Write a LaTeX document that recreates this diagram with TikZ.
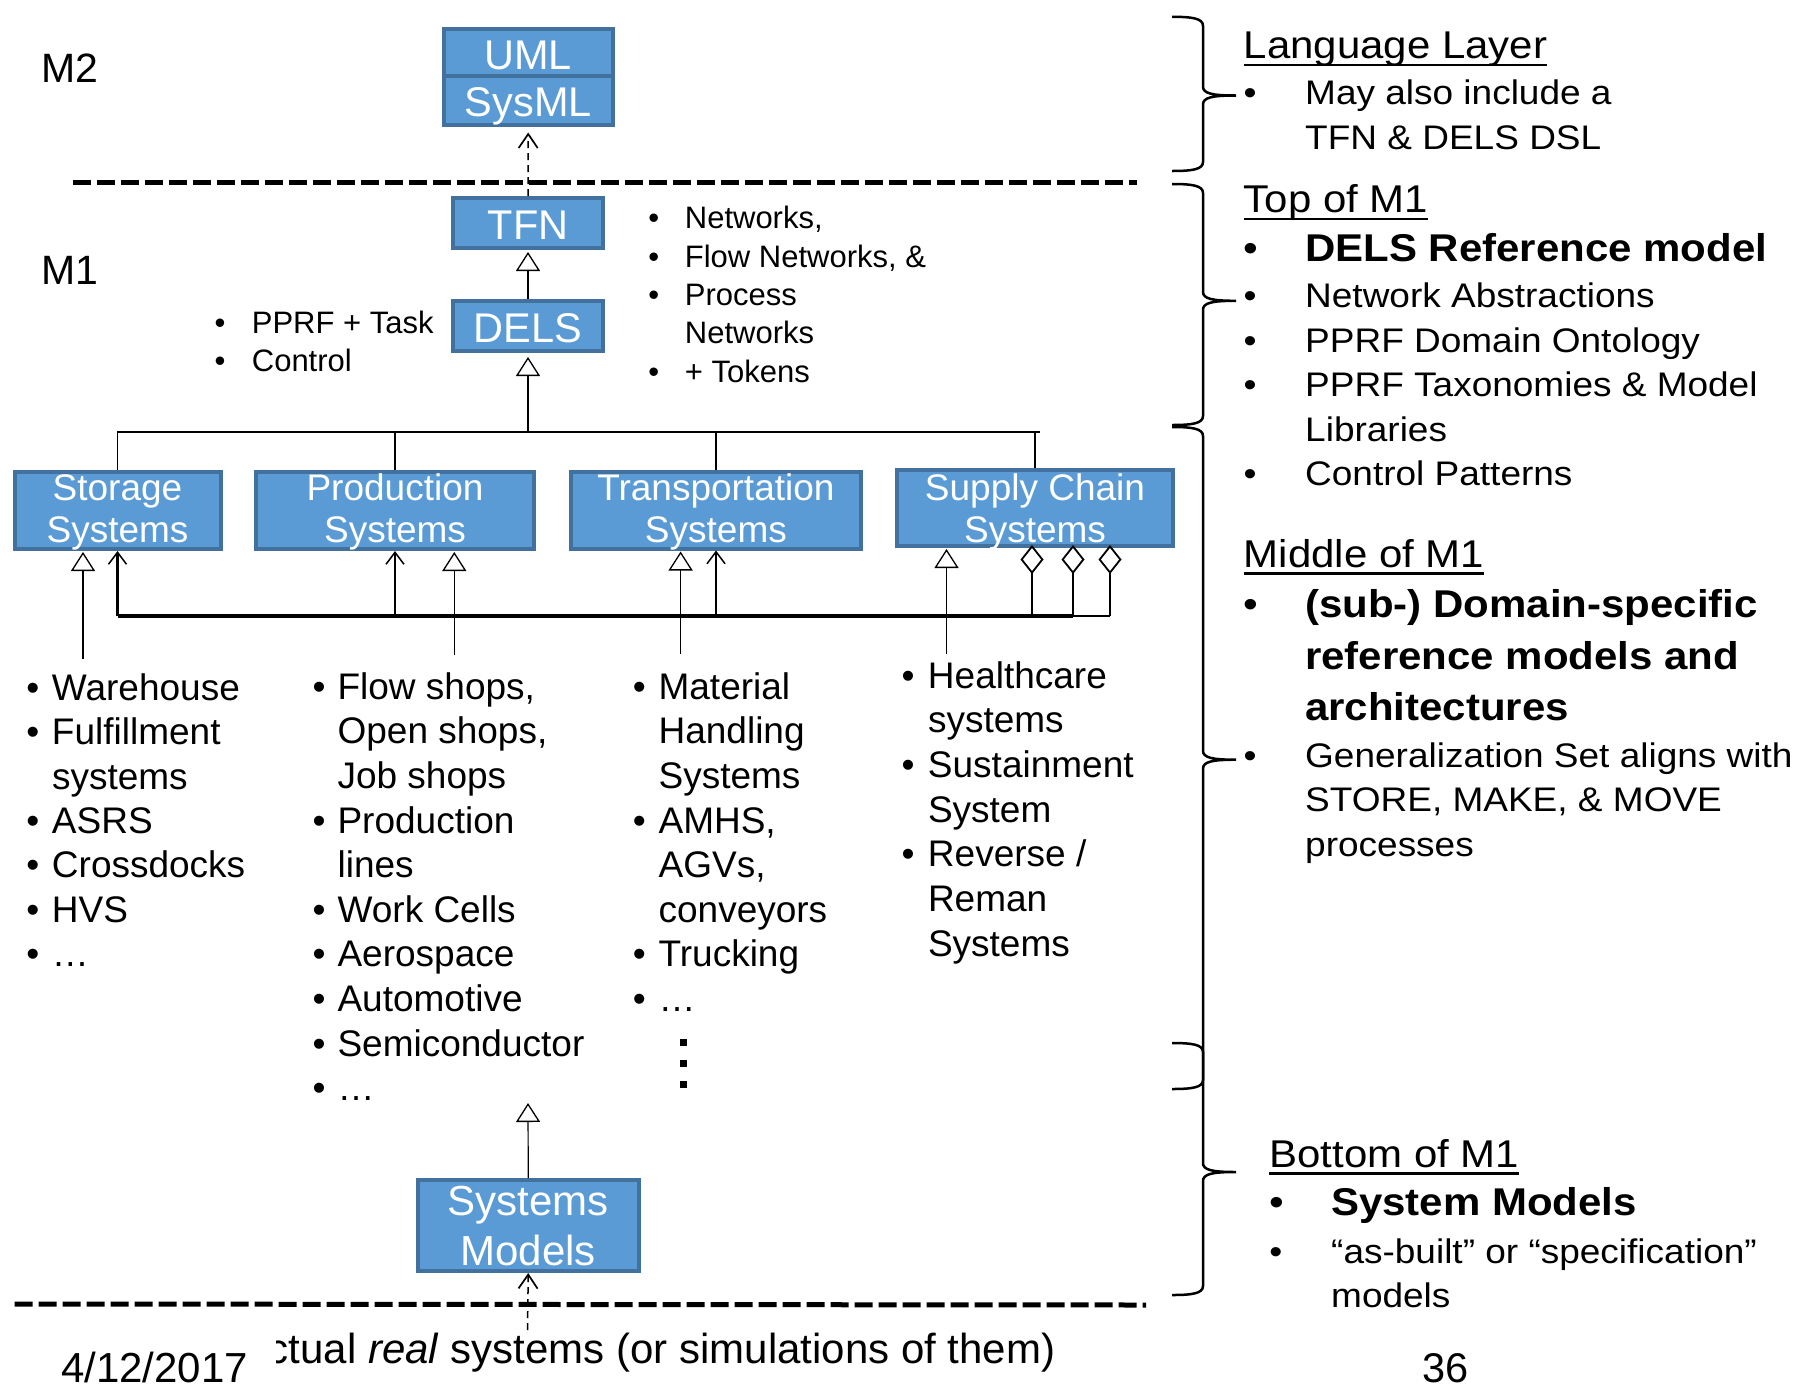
\documentclass[tikz,border=0pt]{standalone}
\usepackage{fontspec}
\setmainfont{Liberation Sans}
\newfontfamily\rfont[FakeStretch=1.085]{Liberation Sans}
\usetikzlibrary{arrows.meta}
\definecolor{boxfill}{RGB}{91,155,213}
\definecolor{boxline}{RGB}{65,113,156}
\newcommand\fs[2]{\fontsize{#1}{#2}\selectfont}
\newlength\bw
\newcommand\bu{\makebox[\bw][l]{\textbullet}}
\newcommand\ulx[1]{\setbox0\hbox{#1}\rlap{\rule[-7.6pt]{\wd0}{2.5pt}}\box0}
\newcommand\twol[2]{\begin{tabular}[t]{@{}c@{}}#1\\#2\end{tabular}}
\begin{document}
\begin{tikzpicture}[x=1pt,y=-1pt,
  box/.style={draw=boxline, fill=boxfill, line width=4pt, text=white, inner sep=0pt},
  one/.style={text height=33pt, text depth=0pt, font=\fs{41.5}{50}},
  twobox/.style={text height=0pt, font=\fs{37}{42.5}},
  gen/.style={-{Triangle[open,length=19pt,width=24pt,line width=1.3pt]}, line width=1.2pt},
  assoc/.style={-{Straight Barb[length=12pt,width=18pt,line width=1.5pt]}, line width=2.6pt},
  aggr/.style={-{Diamond[open,length=29pt,width=23pt,line width=1.8pt]}, line width=2.2pt},
  dep/.style={-{Straight Barb[length=14pt,width=19pt,line width=1.7pt]}, line width=1.5pt, dash pattern=on 7pt off 5pt},
  sepline/.style={line width=5pt, dash pattern=on 18pt off 6pt},
  tree/.style={line width=1.6pt},
  brace/.style={line width=2.5pt},
  txt/.style={inner sep=0pt, anchor=base west}]
\useasboundingbox (0,0) rectangle (1807,1390);

% separators
\coordinate (s1L) at (72.5,182.4);
\coordinate (s1R) at (1137,182.4);
\draw[sepline] (s1L) -- (s1R);
\coordinate (s2L) at (14.7,1304);
\coordinate (s2R) at (1146,1305);
\draw[sepline] (s2L) -- (s2R);

% level labels
\node[txt, font=\fs{41}{50}] (m2) at (41.5,82) {M2};
\node[txt, font=\fs{41}{50}] (m1) at (41.5,284) {M1};

% boxes
\node[box, one, minimum width=169.5pt, minimum height=47pt] (uml) at (528.25,52.5) {UML};
\node[box, one, minimum width=169.5pt, minimum height=48.5pt] (sysml) at (528.25,100.25) {SysML};
\node[box, one, minimum width=150pt, minimum height=50pt] (tfn) at (528,223) {TFN};
\node[box, one, minimum width=150pt, minimum height=50pt] (dels) at (528,326) {DELS};
\node[box, twobox, text depth=21pt, minimum width=206pt, minimum height=77pt] (st) at (117.5,510.5) {\twol{Storage}{Systems}};
\node[box, twobox, text depth=21pt, minimum width=278pt, minimum height=77pt] (pr) at (395,510.5) {\twol{Production}{Systems}};
\node[box, twobox, text depth=19.9pt, minimum width=290.3pt, minimum height=76.5pt] (tr) at (715.9,510.25) {\twol{Transportation}{Systems}};
\node[box, twobox, text depth=15.4pt, minimum width=276pt, minimum height=76pt] (sc) at (1035,508) {\twol{Supply Chain}{Systems}};
\node[box, text height=0pt, text depth=21pt, font=\fs{42}{50}, minimum width=220.5pt, minimum height=91pt] (sm) at (528.25,1225.5) {\twol{Systems}{Models}};

% top connectors
\draw[dep, shorten >=6pt] (tfn.north) -- (sysml.south);
\draw[gen, shorten >=2pt] (dels.north) -- (tfn.south);
\coordinate (hub) at (528,432);
\coordinate (hubR) at (1040,432);
\draw[tree] (st.north) |- (hubR);
\draw[tree] (pr.north) -- (pr.north |- hub);
\draw[tree] (tr.north) -- (tr.north |- hub);
\draw[tree] (sc.north) -- (sc.north |- hub);
\draw[gen, shorten >=4pt] (hub) -- (dels.south);

% bus with associations and aggregations
\coordinate (bS) at (117.5,616);
\coordinate (bP) at (395,616);
\coordinate (bT) at (716,616);
\coordinate (bA) at (1032,616);
\coordinate (bB) at (1073,616);
\coordinate (bC) at (1110,616);
\draw[line width=3.6pt] (bS) -- (bB);
\draw[line width=2pt] (bB) -- (bC);
\draw[assoc] (bS) -- (st.south);
\draw[assoc] (bP) -- (pr.south);
\draw[assoc] (bT) -- (bT |- tr.south);
\draw[aggr, shorten >=-3pt] (bA) -- (bA |- sc.south);
\draw[aggr, shorten >=-3pt] (bB) -- (bB |- sc.south);
\draw[aggr, shorten >=-3pt] (bC) -- (bC |- sc.south);

% generalizations from lists
\coordinate (gS) at (83,658.5);
\coordinate (gP) at (454.3,655);
\coordinate (gT) at (680.6,654);
\coordinate (gC) at (946.5,654);
\draw[gen, shorten >=1pt] (gS) -- (gS |- st.south);
\draw[gen, shorten >=1pt] (gP) -- (gP |- pr.south);
\draw[gen, shorten >=1pt] (gT) -- (gT |- tr.south);
\draw[gen, shorten >=1pt] (gC) -- (gC |- sc.south);

% systems models connectors
\coordinate (smT) at (528,1103);
\draw[gen] (sm.north) -- (smT);
\coordinate (realT) at (527.5,1330);
\draw[dep] (realT) -- (sm.south);

% side lists near DELS / TFN
\node[txt, font=\fs{31}{38}] (lstD) at (214.3,333) {\setlength\bw{37.4pt}\begin{tabular}[t]{@{}l@{}l@{}}
\bu & PPRF + Task\\
\bu & Control
\end{tabular}};
\node[txt, font=\fs{31}{38.3}] (lstN) at (648.2,228.8) {\setlength\bw{36.5pt}\begin{tabular}[t]{@{}l@{}l@{}}
\bu & Networks,\\
\bu & Flow Networks, \&\\
\bu & Process\\
 & Networks\\
\bu & + Tokens
\end{tabular}};

% domain lists
\node[txt, font=\fs{37}{44.4}] (lstS) at (26.1,700.3) {\setlength\bw{25.7pt}\begin{tabular}[t]{@{}l@{}l@{}}
\bu & Warehouse\\
\bu & Fulfillment\\
 & systems\\
\bu & ASRS\\
\bu & Crossdocks\\
\bu & HVS\\
\bu & …
\end{tabular}};
\node[txt, font=\fs{37}{44.6}] (lstP) at (312.5,699.2) {\setlength\bw{24.9pt}\begin{tabular}[t]{@{}l@{}l@{}}
\bu & Flow shops,\\
 & Open shops,\\
 & Job shops\\
\bu & Production\\
 & lines\\
\bu & Work Cells\\
\bu & Aerospace\\
\bu & Automotive\\
\bu & Semiconductor\\
\bu & …
\end{tabular}};
\node[txt, font=\fs{37}{44.6}] (lstT) at (632.7,699.2) {\setlength\bw{25.7pt}\begin{tabular}[t]{@{}l@{}l@{}}
\bu & Material\\
 & Handling\\
 & Systems\\
\bu & AMHS,\\
 & AGVs,\\
 & conveyors\\
\bu & Trucking\\
\bu & …
\end{tabular}};
\node[txt, font=\fs{37}{44.7}] (lstC) at (901.5,688) {\setlength\bw{26.3pt}\begin{tabular}[t]{@{}l@{}l@{}}
\bu & Healthcare\\
 & systems\\
\bu & Sustainment\\
 & System\\
\bu & Reverse /\\
 & Reman\\
 & Systems
\end{tabular}};
\fill (680,1039) rectangle (687,1046);
\fill (680,1060) rectangle (687,1067);
\fill (680,1081) rectangle (687,1088);

% braces
\newcommand\brc[3]{\draw[brace] (1172,#1) .. controls (1192,#1) and (1203,#1+1.5) .. (1203,#1+9) -- (1203,#2-9) .. controls (1203,#2-2) and (1212,#2) .. (1236,#2) .. controls (1212,#2) and (1203,#2+2) .. (1203,#2+9) -- (1203,#3-9) .. controls (1203,#3-1.5) and (1192,#3) .. (1172,#3);}
\brc{16.8}{95.5}{171}
\brc{184}{300.8}{425}
\brc{427}{759.7}{1089}
\brc{1043}{1172}{1295}

% right-hand texts
\node[txt, font=\rfont\fs{34.1}{44.5}] (lang) at (1243.5,58.6) {\setlength\bw{61.5pt}\begin{tabular}[t]{@{}l@{}l@{}}
\multicolumn{2}{@{}l@{}}{\fs{38.7}{44.5}\ulx{Language Layer}}\\[1.6pt]
\bu & May also include a\\
 & TFN \& DELS DSL
\end{tabular}};
\node[txt, font=\rfont\fs{34.1}{44.5}] (topm) at (1243.5,212.8) {\setlength\bw{61.5pt}\begin{tabular}[t]{@{}l@{}l@{}}
\multicolumn{2}{@{}l@{}}{\fs{38.7}{44.5}\ulx{Top of M1}}\\[4.5pt]
\fs{38.7}{44.5}\bu & \fs{38.7}{44.5}\bfseries DELS Reference model\\[1.3pt]
\bu & Network Abstractions\\
\bu & PPRF Domain Ontology\\
\bu & PPRF Taxonomies \& Model\\
 & Libraries\\
\bu & Control Patterns
\end{tabular}};
\node[txt, font=\rfont\fs{34.1}{44.5}] (midm) at (1243.5,567) {\setlength\bw{61.5pt}\begin{tabular}[t]{@{}l@{}l@{}}
\multicolumn{2}{@{}l@{}}{\fs{38.7}{44.5}\ulx{Middle of M1}}\\[5.8pt]
\fs{38.7}{44.5}\bu & \fs{38.7}{44.5}\bfseries (sub-) Domain-specific\\[7.9pt]
 & \fs{38.7}{44.5}\bfseries reference models and\\[5.8pt]
 & \fs{38.7}{44.5}\bfseries architectures\\[2.5pt]
\bu & Generalization Set aligns with\\
 & STORE, MAKE, \& MOVE\\
 & processes
\end{tabular}};
\node[txt, font=\rfont\fs{34.1}{44.5}] (botm) at (1269.2,1167) {\setlength\bw{61.8pt}\begin{tabular}[t]{@{}l@{}l@{}}
\multicolumn{2}{@{}l@{}}{\fs{38.7}{44.5}\ulx{Bottom of M1}}\\[3.5pt]
\fs{38.7}{44.5}\bu & \fs{38.7}{44.5}\bfseries System Models\\[3.5pt]
\bu & “as-built” or “specification”\\
 & models
\end{tabular}};

% footer
\node[txt, font=\fs{42}{50}] (real) at (239.6,1363) {Actual \textit{real} systems (or simulations of them)};
\node[fill=white, inner sep=0pt, anchor=base west, text width=215pt, text height=52pt, text depth=0pt, font=\fs{42}{50}] (date) at (61,1382) {4/12/2017};
\node[txt, font=\fs{41.5}{50}] (pg) at (1422,1382) {36};
\end{tikzpicture}
\end{document}
